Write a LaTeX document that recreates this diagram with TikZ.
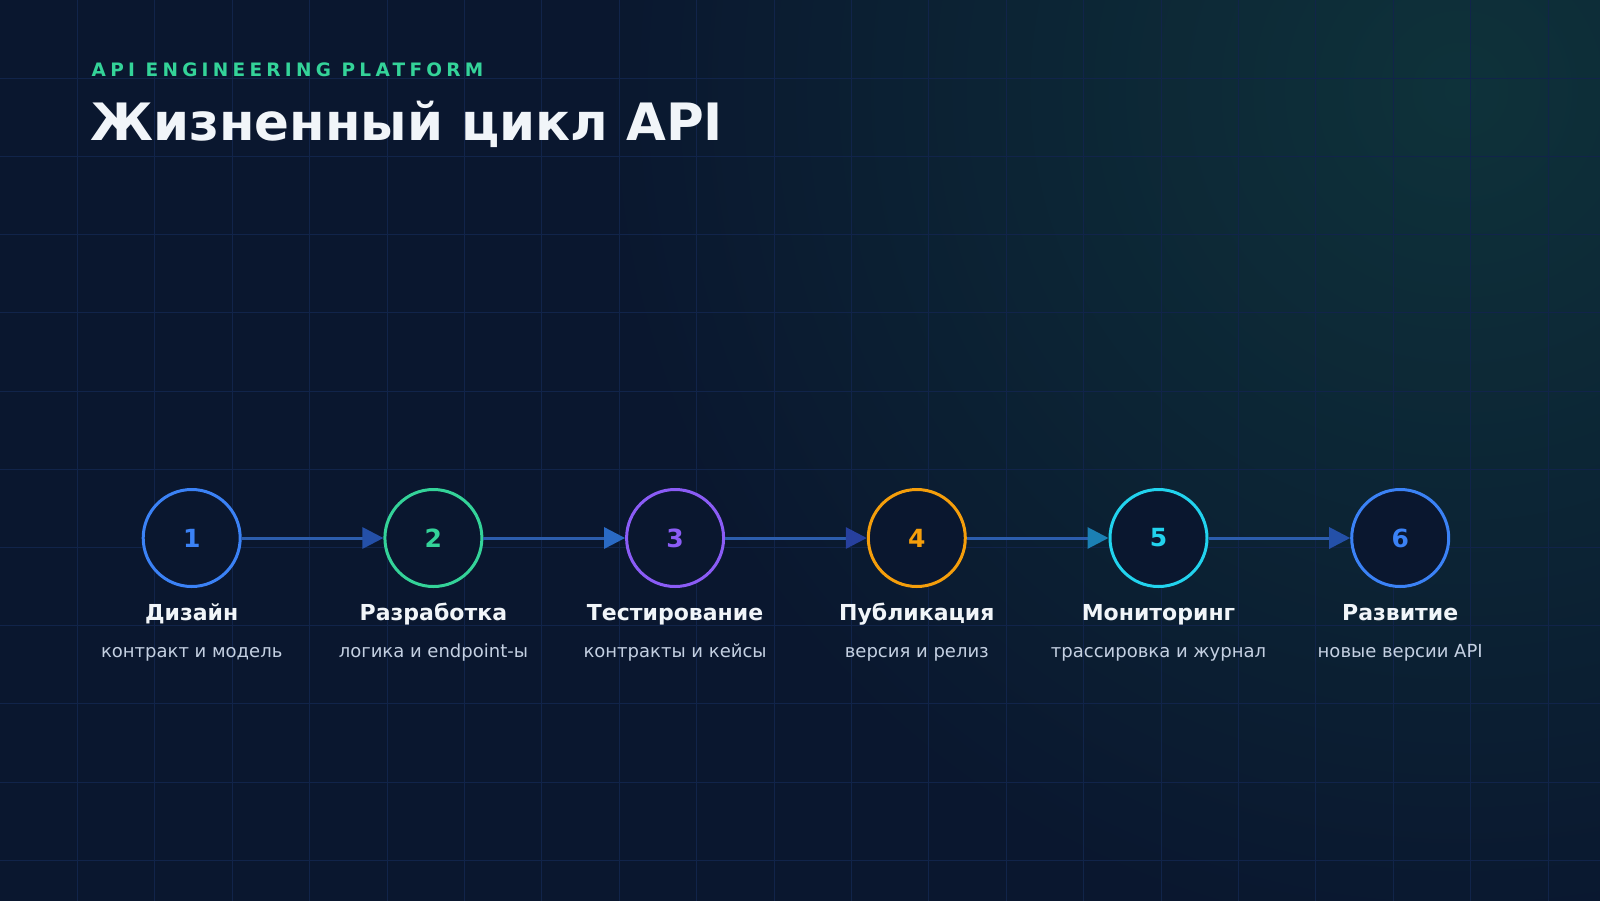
\documentclass[tikz,border=0pt]{standalone}
\usepackage{fontspec}
\setmainfont{DejaVu Sans}
\usepackage{tikz}
\usetikzlibrary{arrows.meta, positioning}

\definecolor{bgnavy}{HTML}{0A172F}
\definecolor{glowteal}{HTML}{0E323A}
\definecolor{gridline}{HTML}{11244A}
\definecolor{flowline}{HTML}{2C5DAD}
\definecolor{tipnavy}{HTML}{2450A8}
\definecolor{tipblue}{HTML}{2A6AC4}
\definecolor{tipindigo}{HTML}{27409E}
\definecolor{tipteal}{HTML}{1B80B4}
\definecolor{stblue}{HTML}{3B82F6}
\definecolor{stgreen}{HTML}{34D399}
\definecolor{stviolet}{HTML}{8B5CF6}
\definecolor{stamber}{HTML}{F59E0B}
\definecolor{stcyan}{HTML}{22D3EE}
\definecolor{titlewhite}{HTML}{F1F5F9}
\definecolor{subgray}{HTML}{C4D0E2}

\begin{document}
\begin{tikzpicture}[x=1pt, y=-1pt, node distance=241.7pt, on grid,
	stage/.style={circle, draw=#1, text=#1, fill=bgnavy, line width=3pt, minimum size=97pt, inner sep=0pt, font=\fontsize{25}{25}\selectfont\bfseries},
	stagename/.style={text=titlewhite, inner sep=0pt, font=\fontsize{22}{22}\selectfont\bfseries},
	stagenote/.style={text=subgray, inner sep=0pt, font=\fontsize{18}{18}\selectfont},
	flow/.style={draw=flowline, line width=3pt, -{Triangle[length=21pt, width=21pt, color=#1]}}]
	\useasboundingbox (0,0) rectangle (1600,900);
	\fill[bgnavy] (-10,-10) rectangle (1610,910);
	\begin{scope}
		\clip (-10,-10) rectangle (1610,910);
		\shade[inner color=glowteal, outer color=bgnavy] (1460,90) circle (860pt);
	\end{scope}
	\foreach \gx in {1,...,20} \draw[gridline, line width=1pt] (\gx*77.4,-10) -- (\gx*77.4,910);
	\foreach \gy in {1,...,11} \draw[gridline, line width=1pt] (-10,\gy*78.2) -- (1610,\gy*78.2);
	
	\node[anchor=base west, inner sep=0pt, text=stgreen, font=\fontsize{18.5}{18.5}\selectfont\bfseries\addfontfeatures{LetterSpace=23}] (kicker) at (91.5,76) {API ENGINEERING PLATFORM};
	\node[anchor=base west, inner sep=0pt, text=titlewhite, font=\fontsize{51.5}{51.5}\selectfont\bfseries] (headline) at (90,140) {Жизненный цикл API};
	
	\node[stage=stblue] (design) at (191.7,538) {1};
	\node[stage=stgreen, right=of design] (develop) {2};
	\node[stage=stviolet, right=of develop] (testing) {3};
	\node[stage=stamber, right=of testing] (publish) {4};
	\node[stage=stcyan, right=of publish] (monitor) {5};
	\node[stage=stblue, right=of monitor] (evolve) {6};
	
	\node[stagename, below=82.7pt of design, anchor=base] (design-name) {Дизайн};
	\node[stagename, below=82.7pt of develop, anchor=base] (develop-name) {Разработка};
	\node[stagename, below=82.7pt of testing, anchor=base] (testing-name) {Тестирование};
	\node[stagename, below=82.7pt of publish, anchor=base] (publish-name) {Публикация};
	\node[stagename, below=82.7pt of monitor, anchor=base] (monitor-name) {Мониторинг};
	\node[stagename, below=82.7pt of evolve, anchor=base] (evolve-name) {Развитие};
	
	\node[stagenote, below=119.3pt of design, anchor=base] (design-note) {контракт и модель};
	\node[stagenote, below=119.3pt of develop, anchor=base] (develop-note) {логика и endpoint-ы};
	\node[stagenote, below=119.3pt of testing, anchor=base] (testing-note) {контракты и кейсы};
	\node[stagenote, below=119.3pt of publish, anchor=base] (publish-note) {версия и релиз};
	\node[stagenote, below=119.3pt of monitor, anchor=base] (monitor-note) {трассировка и журнал};
	\node[stagenote, below=119.3pt of evolve, anchor=base] (evolve-note) {новые версии API};
	
	\path
	(design) edge[flow=tipnavy] (develop)
	(develop) edge[flow=tipblue] (testing)
	(testing) edge[flow=tipindigo] (publish)
	(publish) edge[flow=tipteal] (monitor)
	(monitor) edge[flow=tipnavy] (evolve);
\end{tikzpicture}
\end{document}
